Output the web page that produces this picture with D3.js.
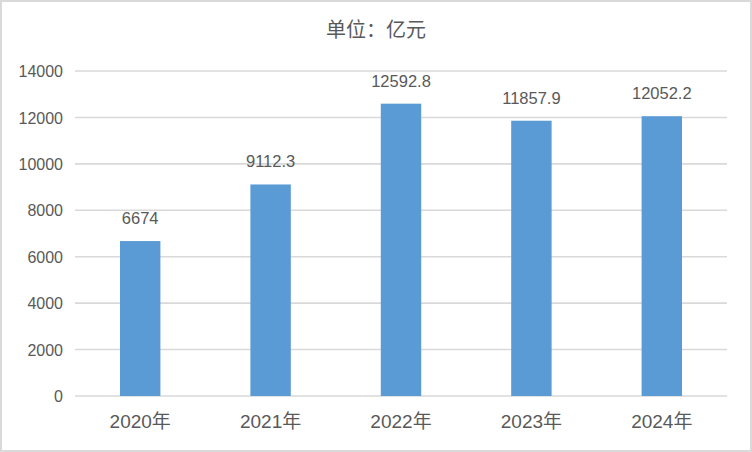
<!DOCTYPE html>
<html><head><meta charset="utf-8">
<script src="https://cdn.jsdelivr.net/npm/d3@7"></script>
<style>body{margin:0;background:#fff}svg{display:block}text{font-family:"Liberation Sans","Noto Sans CJK SC",sans-serif;fill:#595959}</style>
</head><body>
<script>
const categories = ["2020年","2021年","2022年","2023年","2024年"];
const values = [6674, 9112.3, 12592.8, 11857.9, 12052.2];
const valueLabels = ["6674","9112.3","12592.8","11857.9","12052.2"];
const yTicks = [0,2000,4000,6000,8000,10000,12000,14000];
const title = "单位：亿元";

const W=752,H=452;
const svg=d3.select("body").append("svg").attr("width",W).attr("height",H);
svg.append("rect").attr("x",1).attr("y",1).attr("width",W-2).attr("height",H-2).attr("fill","#fff").attr("stroke","#d9d9d9").attr("stroke-width",2);

const x=d3.scaleBand().domain(categories).range([75,727]).paddingInner(0.69).paddingOuter(0.345);
const y=d3.scaleLinear().domain([0,14000]).range([396,71]);

const grid=svg.append("g");
grid.selectAll("line").data(yTicks).join("line")
 .attr("x1",75).attr("x2",727).attr("y1",d=>y(d)).attr("y2",d=>y(d))
 .attr("stroke","#d9d9d9").attr("stroke-width",1.6);

const yAxis=d3.axisLeft(y).tickValues(yTicks).tickSize(0).tickPadding(0).tickFormat(d=>String(d));
const ya=svg.append("g").attr("transform","translate(63,0)").call(yAxis);
ya.select(".domain").remove();
ya.selectAll("text").attr("font-size",16).attr("fill","#595959").attr("dy","0.35em").style("font-family","'Liberation Sans',sans-serif");

svg.append("g").selectAll("rect").data(values).join("rect")
 .attr("x",(d,i)=>x(categories[i])).attr("width",x.bandwidth())
 .attr("y",d=>y(d)).attr("height",d=>y(0)-y(d)).attr("fill","#5b9bd5");

svg.append("g").selectAll("text").data(values).join("text")
 .attr("x",(d,i)=>x(categories[i])+x.bandwidth()/2).attr("y",d=>y(d)-17)
 .attr("text-anchor","middle").attr("font-size",16.5).text((d,i)=>valueLabels[i]);

const xAxis=d3.axisBottom(x).tickSize(0).tickPadding(0);
const xa=svg.append("g").attr("transform","translate(0,396)").call(xAxis);
xa.select(".domain").remove();
xa.selectAll("text").attr("font-size",19).attr("fill","#595959").attr("dy",0).attr("y",32).style("font-family","'Liberation Sans','Noto Sans CJK SC',sans-serif");

svg.append("text").attr("x",376).attr("y",37).attr("text-anchor","middle").attr("font-size",20)
 .style("font-family","'Noto Sans CJK SC',sans-serif").text(title);
</script>
</body></html>
